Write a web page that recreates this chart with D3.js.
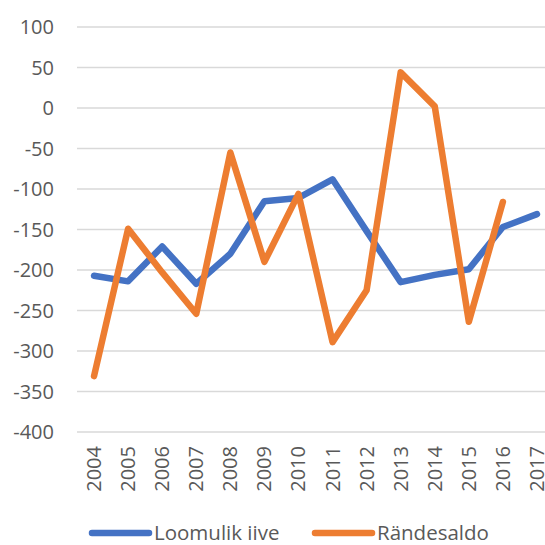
<!DOCTYPE html>
<html>
<head>
<meta charset="utf-8">
<script src="https://cdn.jsdelivr.net/npm/d3@7"></script>
<style>
  body { margin: 0; background: #fff; }
  text { font-family: "Open Sans", sans-serif; fill: #595959; }
</style>
</head>
<body>
<div id="chart"></div>
<script>
const years = ["2004","2005","2006","2007","2008","2009","2010","2011","2012","2013","2014","2015","2016","2017"];
const loomulikIive = [-207, -214, -171, -217, -180, -115, -111, -88, -152, -215, -206, -199, -147, -131];
const randesaldo = [-331, -149, -203, -254, -55, -190, -106, -289, -225, 44, 2, -264, -116, null];
const yTicks = [100, 50, 0, -50, -100, -150, -200, -250, -300, -350, -400];

const width = 545, height = 545;
const plotLeft = 77, plotRight = 554, plotTop = 27, plotBottom = 432;

const svg = d3.select("#chart").append("svg")
  .attr("width", width)
  .attr("height", height);

const x = d3.scalePoint()
  .domain(years)
  .range([plotLeft, plotRight])
  .padding(0.5);

const y = d3.scaleLinear()
  .domain([-400, 100])
  .range([plotBottom, plotTop]);

// gridlines
svg.append("g")
  .selectAll("line")
  .data(yTicks)
  .enter().append("line")
  .attr("x1", plotLeft)
  .attr("x2", plotRight)
  .attr("y1", d => y(d))
  .attr("y2", d => y(d))
  .attr("stroke", "#d9d9d9")
  .attr("stroke-width", 1.5);

// y labels
svg.append("g")
  .selectAll("text")
  .data(yTicks)
  .enter().append("text")
  .attr("x", 54)
  .attr("y", d => y(d))
  .attr("dy", "0.35em")
  .attr("text-anchor", "end")
  .style("font-size", "20px")
  .text(d => d);

// x labels (rotated)
svg.append("g")
  .selectAll("text")
  .data(years)
  .enter().append("text")
  .attr("transform", d => `translate(${x(d)},${plotBottom + 14}) rotate(-90)`)
  .attr("dy", "0.35em")
  .attr("text-anchor", "end")
  .style("font-size", "20px")
  .text(d => d);

const series = [
  { name: "Loomulik iive", values: loomulikIive, color: "#4472C4" },
  { name: "Rändesaldo", values: randesaldo, color: "#ED7D31" }
];

const line = d3.line()
  .defined(d => d.v != null)
  .x(d => x(d.year))
  .y(d => y(d.v));

series.forEach(s => {
  svg.append("path")
    .datum(years.map((yr, i) => ({ year: yr, v: s.values[i] })))
    .attr("fill", "none")
    .attr("stroke", s.color)
    .attr("stroke-width", 6.5)
    .attr("stroke-linejoin", "round")
    .attr("stroke-linecap", "round")
    .attr("d", line);
});

// legend
const legendX = [92, 315];
series.forEach((s, i) => {
  const g = svg.append("g").attr("transform", `translate(${legendX[i]},533)`);
  g.append("line")
    .attr("x1", 0).attr("x2", 57)
    .attr("stroke", s.color)
    .attr("stroke-width", 6.5)
    .attr("stroke-linecap", "round");
  g.append("text")
    .attr("x", 62)
    .attr("dy", "0.35em")
    .style("font-size", "20.5px")
    .text(s.name);
});
</script>
</body>
</html>
